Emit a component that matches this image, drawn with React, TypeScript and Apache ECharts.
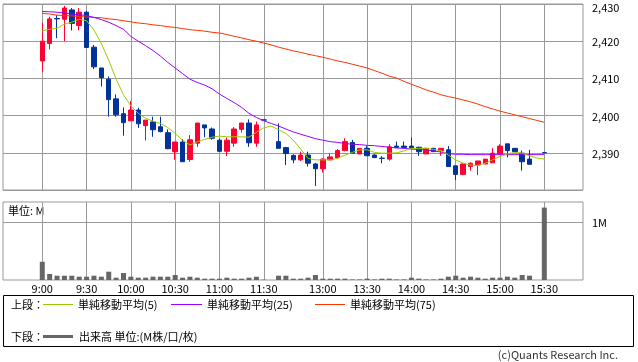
import { useEffect, useRef } from "react";
import * as echarts from "echarts";

const FONT = '"Noto Sans CJK JP", "Noto Sans", sans-serif';

// 5-minute slots: morning 9:00-11:30, one break slot, afternoon 12:30-15:30
const slotLabels: string[] = [];
const fmt = (m: number) => `${Math.floor(m / 60)}:${String(m % 60).padStart(2, "0")}`;
for (let m = 540; m <= 690; m += 5) slotLabels.push(fmt(m));
slotLabels.push("");
for (let m = 750; m <= 930; m += 5) slotLabels.push(fmt(m));

const tickLabels = ["9:00", "9:30", "10:00", "10:30", "11:00", "11:30", "13:00", "13:30", "14:00", "14:30", "15:00", "15:30"];

const openP: (number | null)[] = [
  2414.7, 2419.4, 2426.1, 2425.9, 2428.4, 2424.2, 2427.8, 2418.4, 2412.8, 2409.8,
  2404.5, 2400.5, 2398.6, 2401.5, 2397.3, 2398.3, 2397.0, 2395.4, 2390.3, 2392.9,
  2388.2, 2392.6, 2397.5, 2396.4, 2393.4, 2390.4, 2392.6, 2396.3, 2398.0, 2392.6,
  2398.85, null, 2393.0, 2391.4, 2389.3, 2388.1, 2389.4, 2387.0, 2385.7, 2388.1,
  2388.7, 2390.6, 2392.8, 2389.7, 2391.2, 2389.4, 2388.55, 2388.3, 2391.8, 2391.8,
  2391.8, 2391.5, 2389.7, 2391.2, 2390.6, 2390.8, 2386.5, 2384.2, 2386.3, 2386.7,
  2387.0, 2387.3, 2389.7, 2392.4, 2391.2, 2389.9, 2388.3, null, 2390.05,
];
const closeP: (number | null)[] = [
  2420.0, 2426.0, 2426.0, 2428.9, 2424.8, 2427.8, 2418.3, 2413.1, 2410.2, 2404.3,
  2400.2, 2398.1, 2401.5, 2397.8, 2398.8, 2396.2, 2395.7, 2391.1, 2392.9, 2387.6,
  2393.5, 2398.0, 2396.7, 2393.9, 2390.4, 2393.4, 2396.4, 2398.0, 2392.7, 2397.5,
  2398.8, null, 2391.2, 2389.8, 2388.1, 2389.4, 2387.2, 2385.7, 2388.3, 2388.9,
  2390.6, 2393.0, 2389.9, 2391.2, 2389.2, 2388.7, 2388.5, 2391.6, 2391.4, 2391.4,
  2391.3, 2390.3, 2391.2, 2390.3, 2391.2, 2386.3, 2384.2, 2387.0, 2387.2, 2387.8,
  2388.3, 2389.9, 2391.8, 2390.6, 2390.3, 2387.6, 2386.9, null, 2390.0,
];
const lowP: (number | null)[] = [
  2411.8, 2417.8, 2420.8, 2420.0, 2422.9, 2422.9, 2418.3, 2412.5, 2407.8, 2399.7,
  2399.7, 2394.6, 2398.6, 2396.7, 2393.3, 2394.3, 2395.5, 2391.0, 2388.1, 2387.6,
  2387.6, 2391.6, 2394.2, 2393.5, 2390.2, 2389.1, 2391.6, 2395.4, 2391.6, 2391.6,
  2398.8, null, 2391.2, 2386.7, 2387.2, 2387.8, 2386.3, 2381.1, 2384.7, 2388.1,
  2388.5, 2390.4, 2389.9, 2389.7, 2389.2, 2388.7, 2387.2, 2387.9, 2391.4, 2391.3,
  2391.3, 2389.2, 2389.7, 2390.3, 2389.2, 2386.3, 2382.7, 2384.0, 2385.2, 2384.0,
  2386.9, 2387.3, 2389.6, 2388.8, 2390.2, 2385.2, 2386.9, null, 2390.0,
];
const highP: (number | null)[] = [
  2425.0, 2426.6, 2427.0, 2429.5, 2428.9, 2428.9, 2428.1, 2419.0, 2412.8, 2410.5,
  2405.7, 2402.2, 2403.9, 2402.1, 2398.8, 2399.7, 2399.7, 2396.3, 2392.9, 2393.7,
  2394.8, 2398.0, 2397.5, 2396.8, 2393.8, 2394.1, 2396.9, 2398.0, 2399.0, 2398.4,
  2398.85, null, 2397.9, 2391.6, 2389.6, 2390.3, 2390.3, 2387.3, 2388.5, 2389.9,
  2391.0, 2393.9, 2393.5, 2391.3, 2391.8, 2389.6, 2389.1, 2392.3, 2393.0, 2393.0,
  2394.1, 2391.6, 2391.3, 2391.3, 2391.2, 2391.8, 2386.5, 2387.2, 2387.4, 2387.8,
  2388.3, 2391.2, 2392.3, 2392.4, 2391.3, 2390.6, 2390.8, null, 2390.05,
];

const ma5 = [
  2422.8, 2423.2, 2423.5, 2424.6, 2425.1, 2425.9, 2425.5, 2423.0, 2419.4, 2414.9,
  2409.8, 2405.6, 2402.6, 2400.6, 2399.3, 2398.5, 2397.9, 2396.8, 2395.2, 2393.4,
  2392.1, 2393.0, 2393.6, 2394.2, 2394.5, 2394.3, 2394.3, 2394.3, 2394.2, 2395.5,
  2396.7, 2397.2, 2396.2, 2395.2, 2393.4, 2391.0, 2388.5, 2388.1, 2388.1, 2388.1,
  2388.5, 2389.4, 2390.1, 2390.8, 2390.8, 2390.1, 2389.9, 2389.9, 2390.0, 2390.5,
  2391.2, 2391.2, 2391.2, 2390.9, 2390.6, 2389.4, 2388.1, 2387.2, 2386.7, 2386.6,
  2387.2, 2388.1, 2389.0, 2389.7, 2390.1, 2389.9, 2389.2, 2388.6, 2388.3,
];
const ma25 = [
  2428.0, 2427.9, 2427.8, 2427.6, 2427.3, 2427.1, 2426.9, 2426.4, 2425.8, 2425.1,
  2424.2, 2423.2, 2421.3, 2420.0, 2418.8, 2417.5, 2416.0, 2414.3, 2412.8, 2411.3,
  2409.8, 2408.9, 2408.2, 2407.2, 2405.8, 2404.6, 2403.5, 2402.2, 2400.6, 2399.5,
  2398.6, 2397.9, 2397.2, 2396.4, 2395.6, 2395.0, 2394.4, 2393.8, 2393.4, 2393.0,
  2392.8, 2392.5, 2392.3, 2392.2, 2392.0, 2391.9, 2391.7, 2391.5, 2391.3, 2391.2,
  2391.0, 2390.9, 2390.8, 2390.5, 2390.2, 2389.8, 2389.6, 2389.6, 2389.5, 2389.5,
  2389.5, 2389.5, 2389.5, 2389.5, 2389.5, 2389.5, 2389.5, 2389.5, 2389.5,
];
const ma75 = [
  2427.5, 2427.3, 2427.0, 2426.9, 2426.8, 2426.6, 2426.5, 2426.4, 2426.3, 2426.0,
  2425.8, 2425.5, 2425.2, 2424.9, 2424.7, 2424.4, 2424.2, 2423.9, 2423.7, 2423.4,
  2423.1, 2422.9, 2422.7, 2422.4, 2422.2, 2421.8, 2421.3, 2420.9, 2420.4, 2420.0,
  2419.5, 2419.0, 2418.4, 2417.9, 2417.4, 2417.0, 2416.5, 2416.1, 2415.7, 2415.2,
  2414.7, 2414.3, 2413.8, 2413.3, 2412.8, 2412.1, 2411.4, 2410.6, 2410.1, 2409.2,
  2408.4, 2407.7, 2406.9, 2406.3, 2405.6, 2405.1, 2404.7, 2404.2, 2403.7, 2403.1,
  2402.4, 2401.8, 2401.2, 2400.7, 2400.2, 2399.7, 2399.2, 2398.7, 2398.2,
];
// volume in millions
const volume: (number | null)[] = [
  0.314, 0.103, 0.074, 0.074, 0.074, 0.057, 0.057, 0.074, 0.057, 0.143,
  0.04, 0.12, 0.057, 0.04, 0.04, 0.057, 0.057, 0.057, 0.086, 0.04,
  0.057, 0.04, 0.023, 0.023, 0.023, 0.04, 0.023, 0.023, 0.04, 0.057,
  0.005, null, 0.074, 0.074, 0.023, 0.023, 0.04, 0.086, 0.023, 0.023,
  0.023, 0.023, 0.01, 0.01, 0.023, 0.01, 0.023, 0.023, 0.01, 0.01,
  0.04, 0.023, 0.01, 0.01, 0.023, 0.057, 0.074, 0.04, 0.057, 0.04,
  0.023, 0.04, 0.04, 0.057, 0.04, 0.086, 0.074, null, 1.247,
];

const priceMin = 2380;
const priceMax = 2430;
const priceStep = 10;
const volMax = 1.343;

export default function App() {
  const ref = useRef<HTMLDivElement>(null);
  useEffect(() => {
    const chart = echarts.init(ref.current!, null, { renderer: "svg" });
    const tickSlots = tickLabels.map((t) => slotLabels.indexOf(t));
    const xMin = -5.32;
    const xMax = slotLabels.length - 1 + 5.24;

    const candles: any[] = [];
    openP.forEach((o, i) => {
      if (o == null) return;
      candles.push([i, o, closeP[i], lowP[i], highP[i]]);
    });
    const vols: any[] = [];
    volume.forEach((v, i) => {
      if (v == null) return;
      vols.push([i, v]);
    });
    const lineData = (arr: number[]) => arr.map((v, i) => [i, v]);

    const gridColor = "#999999";
    const xAxisBase = (gridIndex: number, showLabel: boolean) => ({
      type: "value",
      gridIndex,
      min: xMin,
      max: xMax,
      axisLine: { show: false },
      axisTick: { show: false, customValues: tickSlots },
      splitLine: { show: true, lineStyle: { color: gridColor, width: 1 } },
      axisLabel: {
        show: showLabel,
        customValues: tickSlots,
        margin: 2,
        fontSize: 11,
        fontFamily: FONT,
        color: "#000",
        formatter: (v: number) => slotLabels[Math.round(v)] || "",
      },
    });

    const option: any = {
      animation: false,
      textStyle: { fontFamily: FONT },
      grid: [
        { left: 3, top: 4, width: 580, height: 186, show: true, borderColor: gridColor, borderWidth: 1, outerBoundsMode: "none", containLabel: false },
        { left: 3, top: 202, width: 580, height: 78, show: true, borderColor: gridColor, borderWidth: 1, outerBoundsMode: "none", containLabel: false },
      ],
      xAxis: [xAxisBase(0, false), xAxisBase(1, true)],
      yAxis: [
        {
          type: "value",
          gridIndex: 0,
          position: "right",
          min: priceMin,
          max: priceMax,
          interval: priceStep,
          axisLine: { show: false },
          axisTick: { show: true, length: 4, lineStyle: { color: gridColor } },
          splitLine: { show: true, lineStyle: { color: gridColor, width: 1 } },
          axisLabel: {
            margin: 9,
            fontSize: 11,
            fontFamily: FONT,
            color: "#000",
            formatter: (v: number) => (v === priceMin || v === priceMax ? "" : v.toLocaleString("en-US")),
          },
        },
        {
          type: "value",
          gridIndex: 1,
          position: "right",
          min: 0,
          max: volMax,
          axisLine: { show: false },
          axisTick: { show: true, length: 4, lineStyle: { color: gridColor }, customValues: [1] },
          splitLine: { show: true, lineStyle: { color: gridColor, width: 1 } },
          axisLabel: {
            customValues: [1],
            margin: 9,
            fontSize: 11,
            fontFamily: FONT,
            color: "#000",
            formatter: (v: number) => (v === 1 ? "1M" : ""),
          },
        },
      ],
      series: [
        {
          type: "candlestick",
          xAxisIndex: 0,
          yAxisIndex: 0,
          barWidth: 5,
          data: candles,
          itemStyle: {
            color: "#ff0033",
            color0: "#003399",
            borderColor: "#ff0033",
            borderColor0: "#003399",
            borderWidth: 1,
          },
          z: 2,
        },
        {
          type: "line",
          name: "単純移動平均(75)",
          xAxisIndex: 0,
          yAxisIndex: 0,
          data: lineData(ma75),
          symbol: "none",
          lineStyle: { color: "#ff3300", width: 1 },
          z: 3,
        },
        {
          type: "line",
          name: "単純移動平均(25)",
          xAxisIndex: 0,
          yAxisIndex: 0,
          data: lineData(ma25),
          symbol: "none",
          lineStyle: { color: "#9900ff", width: 1 },
          z: 3,
        },
        {
          type: "line",
          name: "単純移動平均(5)",
          xAxisIndex: 0,
          yAxisIndex: 0,
          data: lineData(ma5),
          symbol: "none",
          lineStyle: { color: "#99cc00", width: 1 },
          z: 3,
        },
        {
          type: "bar",
          xAxisIndex: 1,
          yAxisIndex: 1,
          barWidth: 5,
          data: vols,
          itemStyle: { color: "#666666" },
        },
      ],
      graphic: [
        { type: "text", x: 592, y: 7, style: { text: priceMax.toLocaleString("en-US"), fontSize: 11, fontFamily: FONT, fill: "#000", verticalAlign: "middle" } },
        { type: "text", x: 8, y: 210, style: { text: "単位: M", fontSize: 11, fontFamily: FONT, fill: "#000", verticalAlign: "middle" } },
        { type: "rect", shape: { x: 3.5, y: 295.5, width: 630, height: 51 }, style: { fill: "none", stroke: "#000", lineWidth: 1 } },
        { type: "text", x: 11, y: 304, style: { text: "上段：", fontSize: 11, fontFamily: FONT, fill: "#000", verticalAlign: "middle" } },
        { type: "line", shape: { x1: 43, y1: 304.5, x2: 73, y2: 304.5 }, style: { stroke: "#99cc00", lineWidth: 1 } },
        { type: "text", x: 78, y: 304, style: { text: "単純移動平均(5)", fontSize: 11, fontFamily: FONT, fill: "#000", verticalAlign: "middle" } },
        { type: "line", shape: { x1: 171, y1: 304.5, x2: 202, y2: 304.5 }, style: { stroke: "#9900ff", lineWidth: 1 } },
        { type: "text", x: 207, y: 304, style: { text: "単純移動平均(25)", fontSize: 11, fontFamily: FONT, fill: "#000", verticalAlign: "middle" } },
        { type: "line", shape: { x1: 315, y1: 304.5, x2: 345, y2: 304.5 }, style: { stroke: "#ff3300", lineWidth: 1 } },
        { type: "text", x: 350, y: 304, style: { text: "単純移動平均(75)", fontSize: 11, fontFamily: FONT, fill: "#000", verticalAlign: "middle" } },
        { type: "text", x: 11, y: 336, style: { text: "下段：", fontSize: 11, fontFamily: FONT, fill: "#000", verticalAlign: "middle" } },
        { type: "line", shape: { x1: 43, y1: 336.5, x2: 73, y2: 336.5 }, style: { stroke: "#666666", lineWidth: 3 } },
        { type: "text", x: 79, y: 336, style: { text: "出来高 単位:(M株/口/枚)", fontSize: 11, fontFamily: FONT, fill: "#000", verticalAlign: "middle" } },
        { type: "text", x: 618, y: 354, style: { text: "(c)Quants Research Inc.", fontSize: 11, fontFamily: FONT, fill: "#333", align: "right", verticalAlign: "middle" } },
      ],
    };
    chart.setOption(option);
    return () => chart.dispose();
  }, []);
  return <div ref={ref} style={{ position: "fixed", left: 0, top: 0, width: 638, height: 362 }} />;
}
